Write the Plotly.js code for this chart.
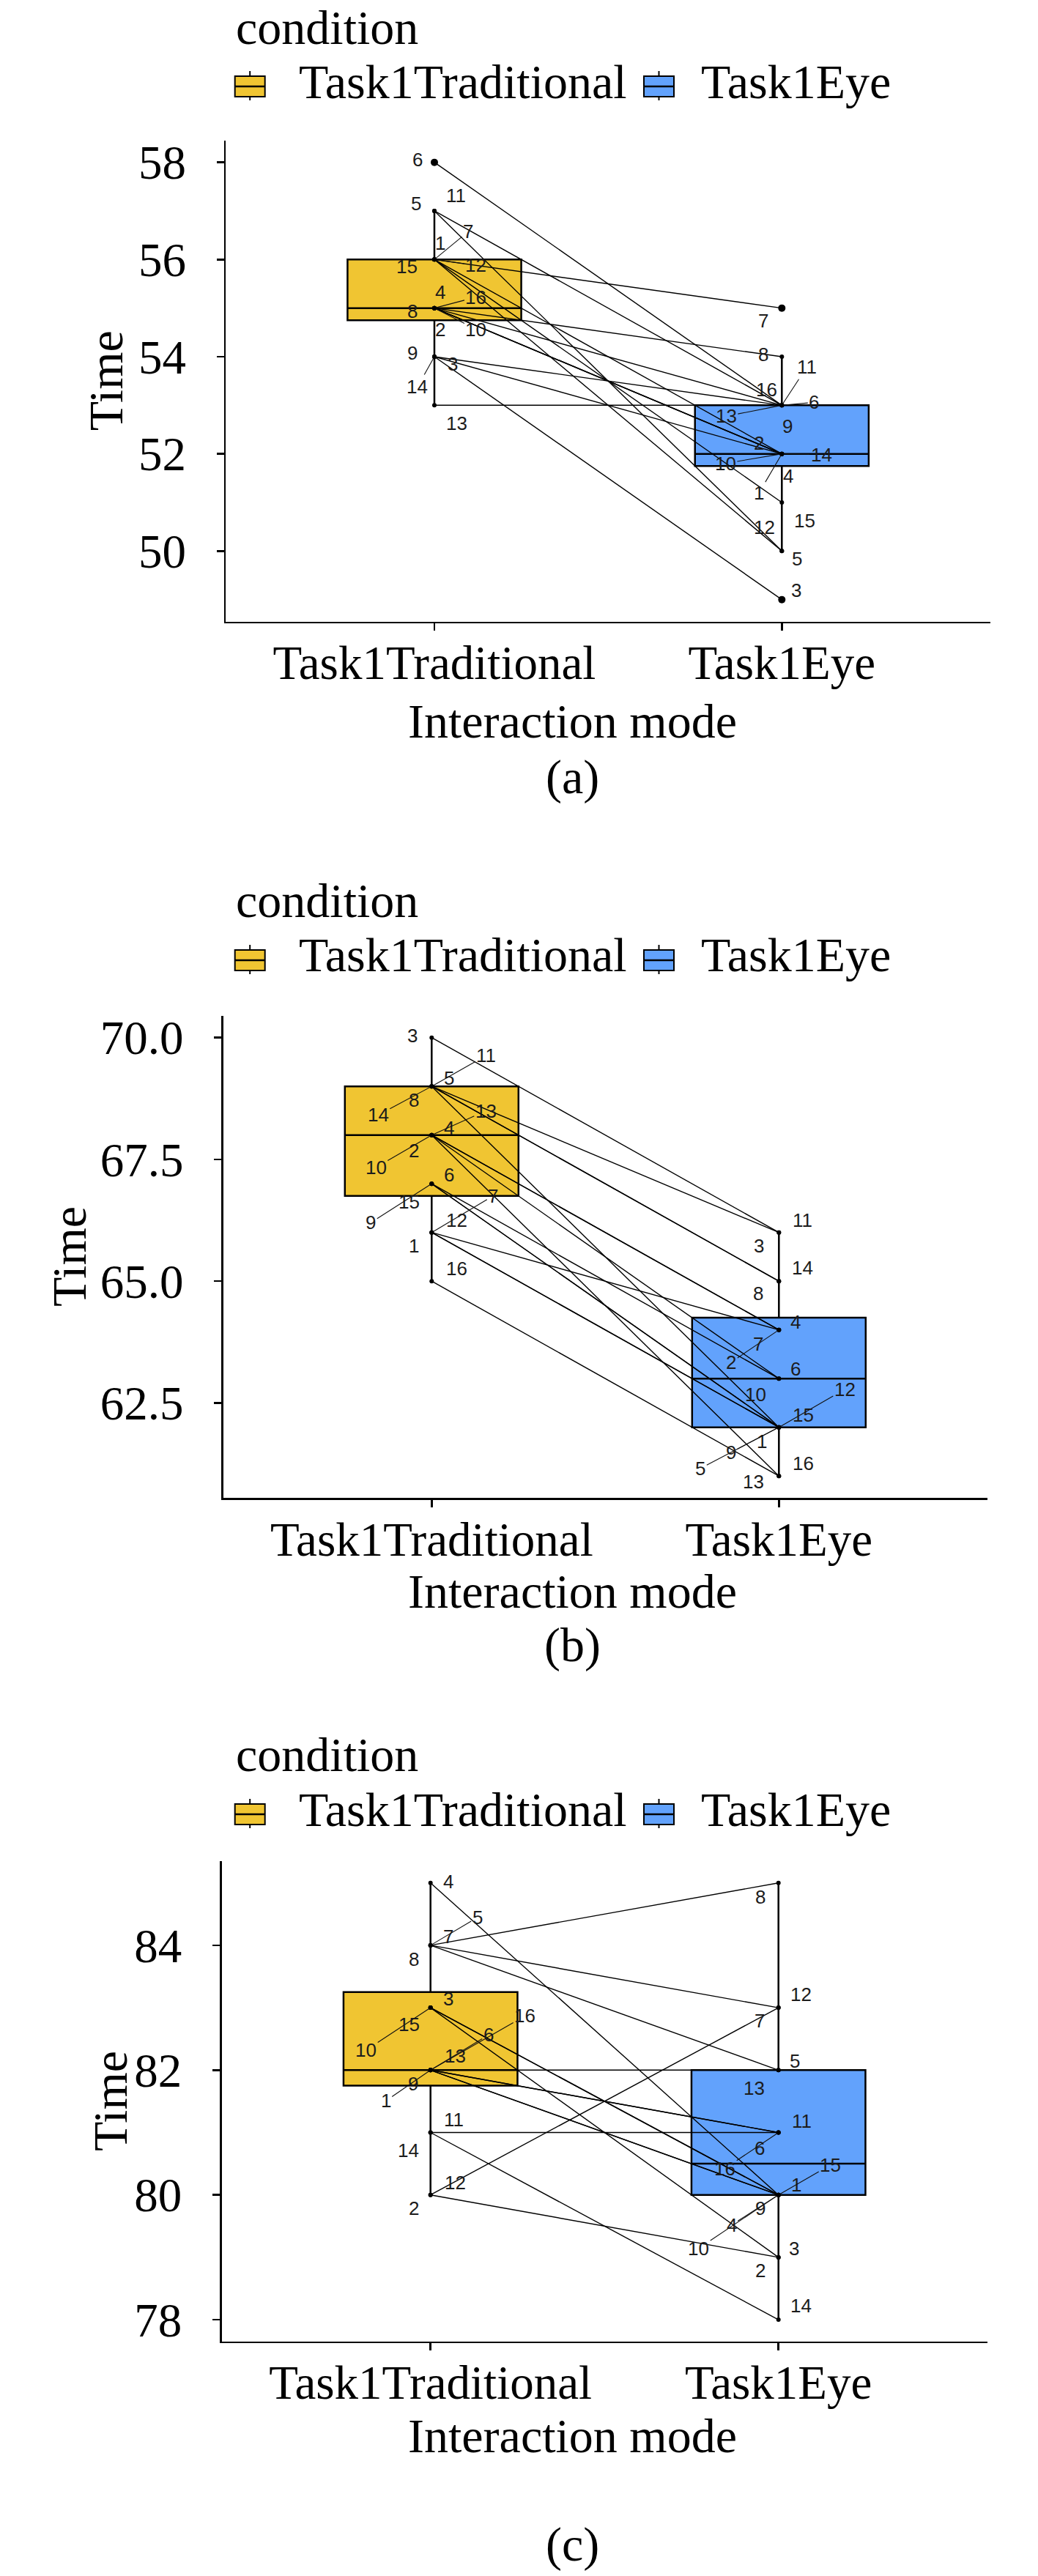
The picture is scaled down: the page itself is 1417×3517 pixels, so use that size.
<!DOCTYPE html>
<html><head><meta charset="utf-8">
<script src="https://cdn.plot.ly/plotly-3.0.1.min.js"></script>
<style>html,body{margin:0;padding:0;background:#fff;overflow:hidden}#chart{width:1417px;height:3517px}</style>
</head><body><div id="chart"></div>
<script>
// ---------------- data ----------------
const categories = ['Task1Traditional', 'Task1Eye'];
const subjects = [1,2,3,4,5,6,7,8,9,10,11,12,13,14,15,16];
const legendTitle = 'condition';
const xTitle = 'Interaction mode';
const yTitle = 'Time';
const captions = ['(a)', '(b)', '(c)'];

const tradA = [56,55,54,55,57,58,56,55,54,55,57,56,53,54,56,55];
const eyeA  = [52,52,49,52,50,53,55,54,53,52,53,50,53,52,51,53];
const tradB = [66,68,70,68,69,67,66,69,67,68,69,66,68,69,67,65];
const eyeB  = [62,64,66,64,62,63,64,65,62,63,66,62,61,65,62,61];
const tradC = [82,80,83,85,84,82,84,84,82,83,81,80,82,81,83,82];
const eyeC  = [80,79,79,80,82,81,83,85,80,80,81,83,82,78,80,81];

const yTicksA = [50,52,54,56,58];
const yTicksB = [62.5,65,67.5,70];
const yTicksC = [78,80,82,84];

// ---------------- label placement (pixel offsets dx, dy, segment) ----------------
const labelOffsetTradA = [[8,-22,0],[8,29,0],[25,10,0],[8,-22,0],[-25,-10,0],[-23,-4,0],[46,-38,1],[-30,4,0],[-30,-5,0],[57,29,1],[30,-21,0],[57,8,1],[31,25,0],[-23,41,1],[-37,10,0],[57,-15,1]];
const labelOffsetEyeA  = [[-31,53,1],[-31,-15,0],[20,-13,0],[9,30,0],[21,11,0],[44,-4,1],[-25,17,0],[-25,-3,0],[8,29,0],[-77,13,1],[34,-52,1],[-24,-32,0],[-76,15,1],[54,1,1],[31,25,0],[-21,-21,0]];
const labelOffsetTradB = [[-24,18,0],[-24,21,0],[-26,-3,0],[24,-10,0],[24,-11,0],[24,-12,0],[84,-50,1],[-24,19,0],[-83,53,1],[-76,44,1],[74,-42,1],[34,-17,0],[74,-33,1],[-73,39,1],[-31,25,0],[34,-17,0]];
const labelOffsetEyeB  = [[-23,19,0],[-65,44,1],[-27,18,0],[23,-11,0],[-107,56,1],[23,-13,0],[-28,19,0],[-28,17,0],[-65,34,1],[-32,22,0],[32,-17,0],[90,-52,1],[-35,8,0],[32,-18,0],[33,-17,0],[33,-17,0]];
const labelOffsetTradC = [[-61,42,1],[-23,18,0],[24,-12,0],[24,-2,0],[64,-38,1],[79,-48,1],[24,-12,0],[-23,19,0],[-24,19,0],[-88,58,1],[32,-18,0],[34,-17,0],[34,-19,0],[-30,24,0],[-29,23,0],[129,-74,1]];
const labelOffsetEyeC  = [[24,-14,0],[-25,18,0],[21,-12,0],[-64,41,1],[22,-12,0],[-26,21,0],[-26,18,0],[-25,19,0],[-25,18,0],[-109,73,1],[32,-16,0],[31,-18,0],[-33,25,0],[31,-19,0],[71,-41,1],[-73,49,1]];

// ---------------- styles / geometry ----------------
const W = 1417, H = 3517;
const colors = ['#F0C532', '#62A2FC'];
const SERIF = 'Liberation Serif, Times New Roman, serif';
const SANS = 'Liberation Sans, Arial, sans-serif';
const panelGeom = [
  {x0:308.4, x1:1351.9, y0:191.8,  y1:848.5,  condY:38,     keyY:118,  textY:111,  titleY:984,  captionY:1061, timeX:144},
  {x0:304.9, x1:1347.7, y0:1386.8, y1:2045.1, condY:1229,   keyY:1311, textY:1304, titleY:2172, captionY:2246, timeX:95},
  {x0:302.7, x1:1347.7, y0:2540.9, y1:3196.9, condY:2395,   keyY:2477, textY:2470, titleY:3325, captionY:3474, timeX:151}
];
const px = v => v / W;
const py = v => 1 - v / H;

function q7(s, p) { const h = (s.length - 1) * p, lo = Math.floor(h), hi = Math.ceil(h); return s[lo] + (h - lo) * (s[hi] - s[lo]); }
function boxStats(vals) {
  const s = [...vals].sort((a, b) => a - b);
  const q1 = q7(s, .25), med = q7(s, .5), q3 = q7(s, .75), iqr = q3 - q1;
  const lo = q1 - 1.5 * iqr, hi = q3 + 1.5 * iqr;
  const inside = s.filter(v => v >= lo && v <= hi);
  return {q1, med, q3, lf: Math.min(...inside), uf: Math.max(...inside), lo, hi};
}

const panels = [
  {trad: tradA, eye: eyeA, ticks: yTicksA, fmt: '', offT: labelOffsetTradA, offE: labelOffsetEyeA},
  {trad: tradB, eye: eyeB, ticks: yTicksB, fmt: '.1f', offT: labelOffsetTradB, offE: labelOffsetEyeB},
  {trad: tradC, eye: eyeC, ticks: yTicksC, fmt: '', offT: labelOffsetTradC, offE: labelOffsetEyeC}
];

const traces = [];
const layout = {
  width: W, height: H, margin: {l: 0, r: 0, t: 0, b: 0},
  paper_bgcolor: '#fff', plot_bgcolor: 'rgba(0,0,0,0)',
  showlegend: false, boxmode: 'overlay',
  shapes: [], annotations: []
};

panels.forEach((p, k) => {
  const s = k === 0 ? '' : String(k + 1);
  const xa = 'x' + s, ya = 'y' + s;
  const g = panelGeom[k];
  const groups = [p.trad, p.eye];

  // boxes
  groups.forEach((vals, gi) => {
    const st = boxStats(vals);
    traces.push({
      type: 'box', x: [categories[gi]], q1: [st.q1], median: [st.med], q3: [st.q3],
      lowerfence: [st.lf], upperfence: [st.uf], boxpoints: false, width: 0.5, whiskerwidth: 0,
      fillcolor: colors[gi], line: {color: '#000', width: 2.5},
      xaxis: xa, yaxis: ya, hoverinfo: 'skip', name: categories[gi]
    });
  });

  // paired lines
  const lx = [], ly = [];
  subjects.forEach((id, i) => { lx.push(categories[0], categories[1], null); ly.push(p.trad[i], p.eye[i], null); });
  traces.push({type: 'scatter', mode: 'lines', x: lx, y: ly, connectgaps: false,
    line: {color: '#000', width: 1.4}, xaxis: xa, yaxis: ya, hoverinfo: 'skip'});

  // points + outliers
  const ptx = [], pty = [], ox = [], oy = [];
  groups.forEach((vals, gi) => {
    const st = boxStats(vals);
    vals.forEach(v => { ptx.push(categories[gi]); pty.push(v); if (v < st.lo || v > st.hi) { ox.push(categories[gi]); oy.push(v); } });
  });
  traces.push({type: 'scatter', mode: 'markers', x: ptx, y: pty, marker: {color: '#000', size: 6},
    xaxis: xa, yaxis: ya, hoverinfo: 'skip'});
  if (ox.length) traces.push({type: 'scatter', mode: 'markers', x: ox, y: oy, marker: {color: '#000', size: 10},
    xaxis: xa, yaxis: ya, hoverinfo: 'skip'});

  // axes
  const all = p.trad.concat(p.eye);
  const mn = Math.min(...all), mx = Math.max(...all), ex = (mx - mn) * 0.05;
  layout['xaxis' + s] = {
    domain: [px(g.x0), px(g.x1)], anchor: ya, type: 'category', categoryarray: categories,
    range: [-0.6, 1.6], showline: true, linecolor: '#000', linewidth: 2.5, mirror: false,
    ticks: 'outside', ticklen: 10, tickwidth: 2.5, tickcolor: '#000',
    tickfont: {family: SERIF, size: 65, color: '#000'}, ticklabelstandoff: -12,
    showgrid: false, zeroline: false, automargin: false, fixedrange: true
  };
  layout['yaxis' + s] = {
    domain: [py(g.y1), py(g.y0)], anchor: xa, range: [mn - ex, mx + ex],
    tickmode: 'array', tickvals: p.ticks, tickformat: p.fmt,
    showline: true, linecolor: '#000', linewidth: 2.5,
    ticks: 'outside', ticklen: 10, tickwidth: 2.5, tickcolor: '#000',
    tickfont: {family: SERIF, size: 65, color: '#000'}, ticklabelstandoff: 29,
    showgrid: false, zeroline: false, automargin: false, fixedrange: true
  };

  // id labels
  groups.forEach((vals, gi) => {
    const offs = gi === 0 ? p.offT : p.offE;
    vals.forEach((v, i) => {
      const [dx, dy, seg] = offs[i];
      const base = {x: categories[gi], y: v, xref: xa, yref: ya, text: String(subjects[i]),
        font: {family: SANS, size: 26, color: '#1c1c1c'}, xanchor: 'center', yanchor: 'middle'};
      if (seg) layout.annotations.push(Object.assign(base, {showarrow: true, arrowhead: 0, arrowwidth: 1.1,
        arrowcolor: '#111', ax: dx, ay: dy, axref: 'pixel', ayref: 'pixel', standoff: 3}));
      else layout.annotations.push(Object.assign(base, {showarrow: false, xshift: dx, yshift: -dy}));
    });
  });

  // legend (drawn)
  layout.annotations.push({xref: 'paper', yref: 'paper', x: px(320), y: py(g.condY), xanchor: 'left', yanchor: 'middle',
    text: legendTitle, showarrow: false, font: {family: SERIF, size: 66, color: '#000'}});
  const keys = [{x0: 320.7, x1: 361.7, tx: 406}, {x0: 879, x1: 920, tx: 955}];
  keys.forEach((kk, gi) => {
    const cx = (kk.x0 + kk.x1) / 2;
    layout.shapes.push({type: 'line', xref: 'paper', yref: 'paper', x0: px(cx), x1: px(cx), y0: py(g.keyY - 21), y1: py(g.keyY + 19), line: {color: '#000', width: 2}});
    layout.shapes.push({type: 'rect', xref: 'paper', yref: 'paper', x0: px(kk.x0), x1: px(kk.x1), y0: py(g.keyY - 14), y1: py(g.keyY + 14), fillcolor: colors[gi], line: {color: '#000', width: 2}});
    layout.shapes.push({type: 'line', xref: 'paper', yref: 'paper', x0: px(kk.x0), x1: px(kk.x1), y0: py(g.keyY), y1: py(g.keyY), line: {color: '#000', width: 2.5}});
    layout.annotations.push({xref: 'paper', yref: 'paper', x: px(kk.tx), y: py(g.textY), xanchor: 'left', yanchor: 'middle',
      text: categories[gi], showarrow: false, font: {family: SERIF, size: 66, color: '#000'}});
  });

  // titles and caption
  layout.annotations.push({xref: 'paper', yref: 'paper', x: px(781), y: py(g.titleY), xanchor: 'center', yanchor: 'middle',
    text: xTitle, showarrow: false, font: {family: SERIF, size: 66, color: '#000'}});
  layout.annotations.push({xref: 'paper', yref: 'paper', x: px(781), y: py(g.captionY), xanchor: 'center', yanchor: 'middle',
    text: captions[k], showarrow: false, font: {family: SERIF, size: 66, color: '#000'}});
  layout.annotations.push({xref: 'paper', yref: 'paper', x: px(g.timeX), y: py((g.y0 + g.y1) / 2), xanchor: 'center', yanchor: 'middle',
    text: yTitle, textangle: -90, showarrow: false, font: {family: SERIF, size: 66, color: '#000'}});
});

Plotly.newPlot('chart', traces, layout, {displayModeBar: false, responsive: false, staticPlot: true});
</script>
</body></html>
